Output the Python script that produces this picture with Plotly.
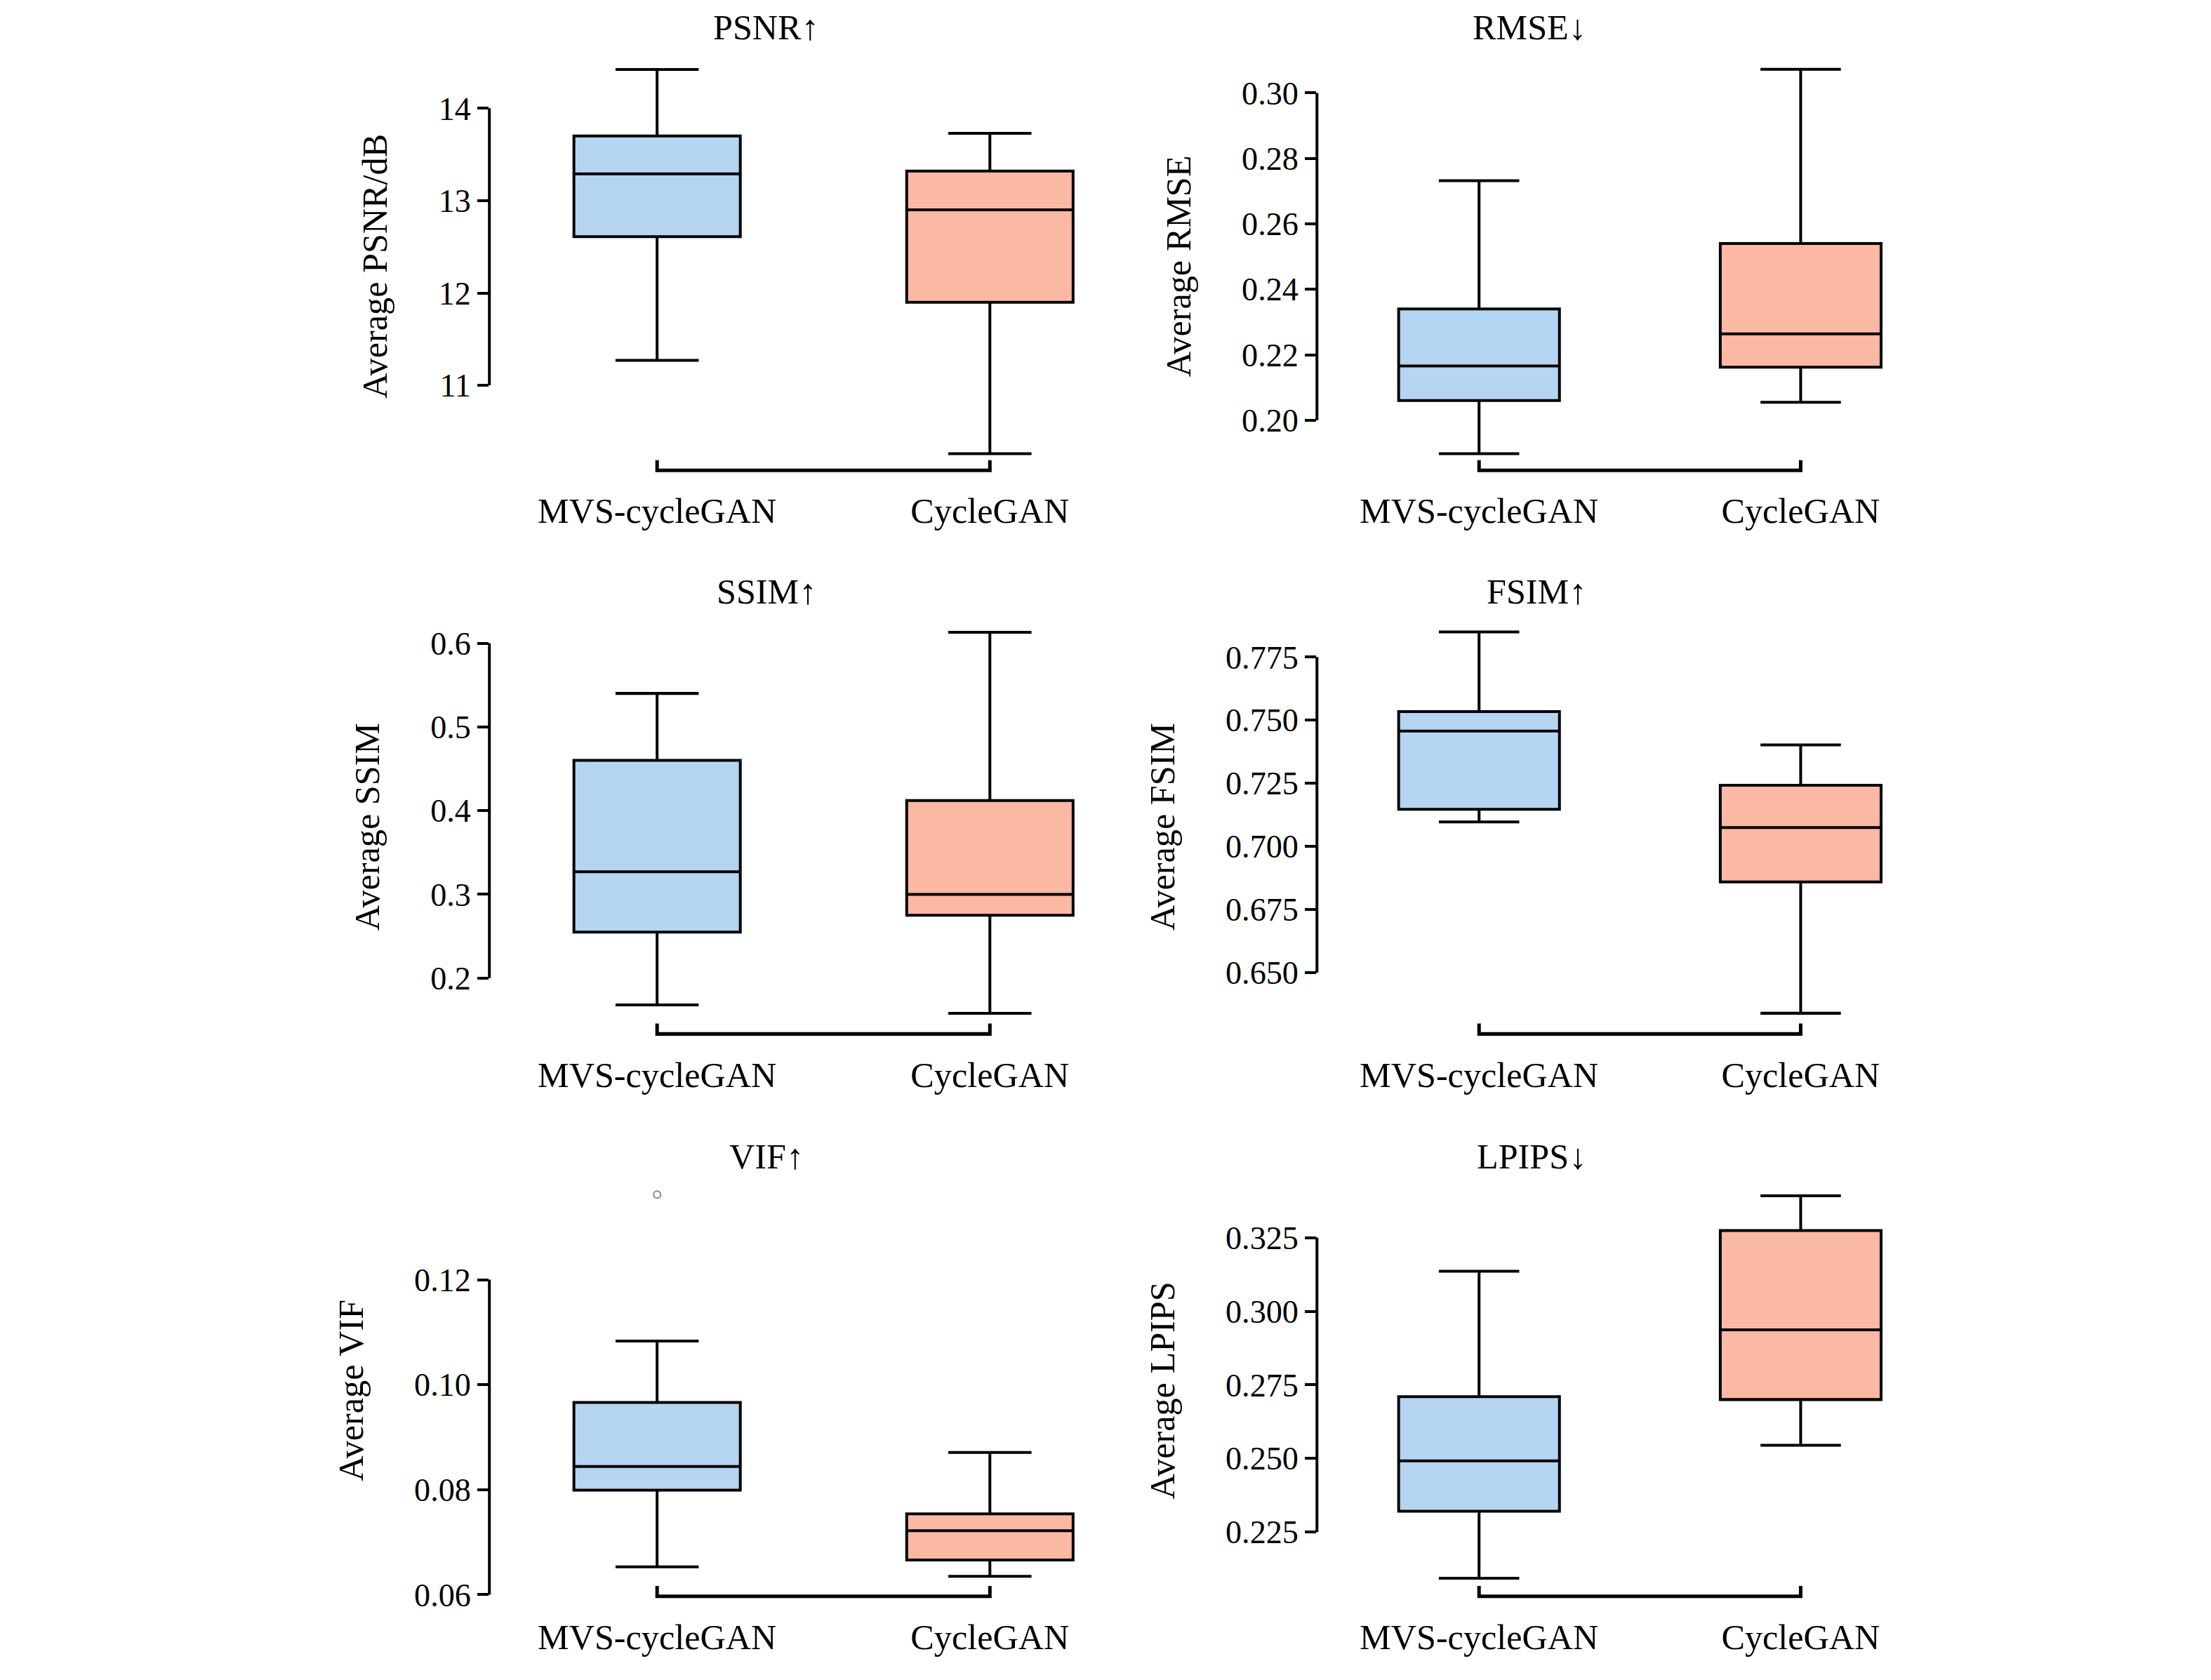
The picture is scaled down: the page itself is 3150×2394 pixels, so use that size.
import plotly.graph_objects as go

S = 3150 / 1568  # scale from layout sketch to output pixels

methods = ['MVS-cycleGAN', 'CycleGAN']
titles = ['PSNR↑', 'RMSE↓', 'SSIM↑', 'FSIM↑', 'VIF↑', 'LPIPS↓']
ylabels = ['Average PSNR/dB', 'Average RMSE', 'Average SSIM', 'Average FSIM', 'Average VIF', 'Average LPIPS']

# [MVS-cycleGAN, CycleGAN]
lower = [[11.27, 10.26], [0.1898, 0.2055], [0.168, 0.158], [0.7097, 0.6339], [0.0653, 0.0635], [0.2093, 0.2545]]
q1 = [[12.61, 11.90], [0.2060, 0.2162], [0.255, 0.275], [0.7147, 0.6859], [0.0799, 0.0666], [0.2321, 0.2700]]
median = [[13.29, 12.90], [0.2166, 0.2264], [0.327, 0.300], [0.7457, 0.7075], [0.0844, 0.0722], [0.2492, 0.2937]]
q3 = [[13.70, 13.32], [0.2340, 0.2540], [0.460, 0.412], [0.7534, 0.7242], [0.0966, 0.0754], [0.2710, 0.3274]]
upper = [[14.42, 13.73], [0.2732, 0.3072], [0.540, 0.613], [0.785, 0.7402], [0.1083, 0.0871], [0.3136, 0.3392]]
outliers = {4: (0, 0.1362)}

yticks = [[11, 12, 13, 14], [0.20, 0.22, 0.24, 0.26, 0.28, 0.30], [0.2, 0.3, 0.4, 0.5, 0.6],
          [0.650, 0.675, 0.700, 0.725, 0.750, 0.775], [0.06, 0.08, 0.10, 0.12],
          [0.225, 0.250, 0.275, 0.300, 0.325]]
yticktext = [['11', '12', '13', '14'], ['0.20', '0.22', '0.24', '0.26', '0.28', '0.30'],
             ['0.2', '0.3', '0.4', '0.5', '0.6'],
             ['0.650', '0.675', '0.700', '0.725', '0.750', '0.775'], ['0.06', '0.08', '0.10', '0.12'],
             ['0.225', '0.250', '0.275', '0.300', '0.325']]
yranges = [[10.08, 14.50], [0.1847, 0.3094], [0.1333, 0.6283], [0.6257, 0.7899], [0.0597, 0.1381], [0.2032, 0.343]]

colors = ['#b5d5f2', '#fbb8a3']
xdomains = [[0.2188, 0.4974], [0.5931, 0.8737]]
xranges = [[-0.504, 1.347], [-0.504, 1.425]]
ydomains = [[0.7206, 0.966], [0.3817, 0.6309], [0.0436, 0.2911]]
title_x = [0.344, 0.7156]
title_y = [0.987, 0.6477, 0.3079]
font = 'Liberation Serif, Times New Roman, serif'

fig = go.Figure()
shapes = []
annotations = []

for i in range(6):
    r, c = divmod(i, 2)
    ax = '' if i == 0 else str(i + 1)
    for j in range(2):
        fig.add_trace(go.Box(
            x=[j], q1=[q1[i][j]], median=[median[i][j]], q3=[q3[i][j]],
            lowerfence=[lower[i][j]], upperfence=[upper[i][j]],
            width=0.5, whiskerwidth=0.5, fillcolor=colors[j],
            line=dict(color='black', width=2 * S), boxpoints=False,
            xaxis='x' + ax, yaxis='y' + ax, showlegend=False, hoverinfo='y'))
    if i in outliers:
        ox, oy = outliers[i]
        fig.add_trace(go.Scatter(
            x=[ox], y=[oy], mode='markers', xaxis='x' + ax, yaxis='y' + ax, showlegend=False,
            marker=dict(symbol='circle-open', size=5 * S, color='#888888', line=dict(width=1 * S))))
    fig.update_layout(**{
        'xaxis' + ax: dict(domain=xdomains[c], range=xranges[c], anchor='y' + ax,
                           tickvals=[0, 1], ticktext=methods, showline=False, showgrid=False,
                           zeroline=False, ticks='', ticklabelstandoff=int(12 * S),
                           tickfont=dict(size=25 * S, color='black', family=font)),
        'yaxis' + ax: dict(domain=ydomains[r], range=yranges[i], anchor='x' + ax,
                           tickvals=yticks[i], ticktext=yticktext[i], showgrid=False, zeroline=False,
                           showline=False, ticks='outside', ticklen=8 * S, tickwidth=2 * S,
                           tickcolor='black',
                           tickfont=dict(size=23 * S, color='black', family=font),
                           title=dict(text=ylabels[i], standoff=28 * S,
                                      font=dict(size=25 * S, color='black', family=font))),
    })
    # left axis line spanning the tick range
    shapes.append(dict(type='line', xref='x' + ax + ' domain', yref='y' + ax,
                       x0=0, x1=0, y0=yticks[i][0], y1=yticks[i][-1],
                       line=dict(color='black', width=2 * S)))
    # bracket below the boxes
    shapes.append(dict(type='path', xref='x' + ax, yref='y' + ax + ' domain',
                       path='M 0,0.025 L 0,0 L 1,0 L 1,0.025',
                       line=dict(color='black', width=2.5 * S)))
    annotations.append(dict(text=titles[i], xref='paper', yref='paper',
                            x=title_x[c], y=title_y[r], showarrow=False, yanchor='middle',
                            font=dict(size=25 * S, color='black', family=font)))

fig.update_layout(width=3150, height=2394, margin=dict(l=0, r=0, t=0, b=0),
                  plot_bgcolor='white', paper_bgcolor='white',
                  shapes=shapes, annotations=annotations)

fig.write_html('out.html')
